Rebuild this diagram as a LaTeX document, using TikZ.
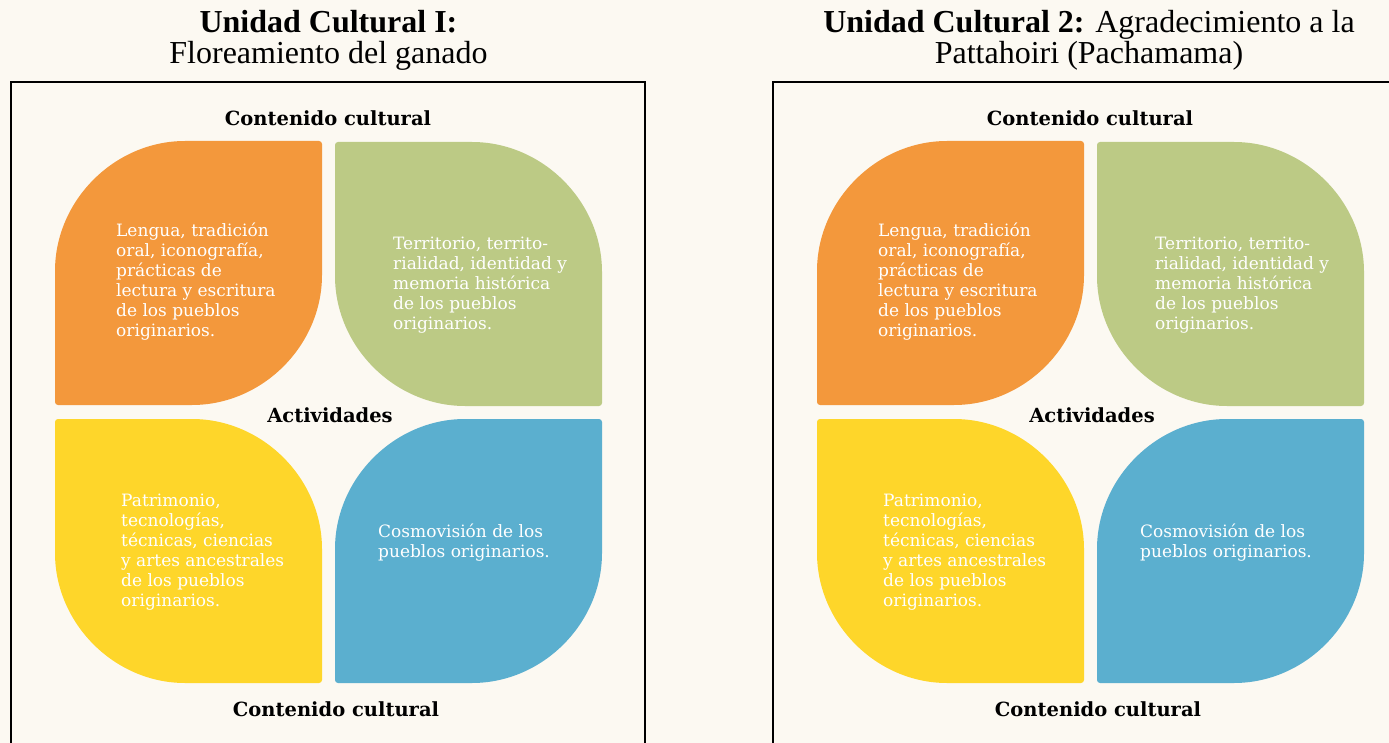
\documentclass[tikz,border=0pt]{standalone}
\usepackage{fontspec}
\setmainfont{DejaVu Serif}
\newfontfamily\titlefont{Liberation Serif}
\definecolor{bgcream}{HTML}{FCF9F2}
\definecolor{porange}{HTML}{F3983C}
\definecolor{pgreen}{HTML}{BCCA85}
\definecolor{pyellow}{HTML}{FED62A}
\definecolor{pblue}{HTML}{5BAFCF}
\newcommand\petalA[4]{\fill[#3,rounded corners=3pt,shift={(#1,#2)}] (267,0) -- (267,131) .. controls (267,204.5) and (207.5,264) .. (134,264) -- (0,264) -- (0,133) .. controls (0,59.5) and (59.5,0) .. (133,0) -- cycle;}
\newcommand\petalB[4]{\fill[#3,rounded corners=3pt,shift={(#1,#2)}] (267,264) -- (133,264) .. controls (59.5,264) and (0,204.5) .. (0,131) -- (0,0) -- (134,0) .. controls (207.5,0) and (267,59.5) .. (267,133) -- cycle;}
\begin{document}
\begin{tikzpicture}[x=1pt,y=-1pt,
  petaltext/.style={text=white, align=left, anchor=west, inner sep=0pt, font=\fontsize{17}{20}\selectfont},
  seclabel/.style={inner sep=0pt, font=\bfseries\fontsize{19.5}{22}\selectfont},
  titletext/.style={inner sep=0pt, align=center, font=\titlefont\fontsize{32}{31}\selectfont},
  frameline/.style={line width=2.5pt, black}]
\useasboundingbox (0,0) rectangle (1389,743);
\fill[bgcream] (0,0) rectangle (1389,743);

% ---------- Panel 1 ----------
\node[titletext] (t1) at (328.5,40.5) {\textbf{Unidad Cultural I:}\\Floreamiento del ganado};
\draw[frameline] (11,750) -- (11,82) -- (645,82) -- (645,750);
\petalA{55}{141}{porange}{o1}
\petalB{335}{142}{pgreen}{g1}
\petalB{55}{419}{pyellow}{y1}
\petalA{335}{419}{pblue}{b1}
\node[seclabel] (c1top) at (328,118) {Contenido cultural};
\node[seclabel] (a1) at (330,415) {Actividades};
\node[seclabel] (c1bot) at (336,709.5) {Contenido cultural};
\node[petaltext] (o1t) at (116,282) {Lengua, tradición\\oral, iconografía,\\prácticas de\\lectura y escritura\\de los pueblos\\originarios.};
\node[petaltext] (g1t) at (393,285) {Territorio, territo-\\rialidad, identidad y\\memoria histórica\\de los pueblos\\originarios.};
\node[petaltext] (y1t) at (121,552) {Patrimonio,\\tecnologías,\\técnicas, ciencias\\y artes ancestrales\\de los pueblos\\originarios.};
\node[petaltext] (b1t) at (378,543) {Cosmovisión de los\\pueblos originarios.};

% ---------- Panel 2 ----------
\node[titletext] (t2) at (1089,40.5) {\textbf{Unidad Cultural 2:} Agradecimiento a la\\Pattahoiri (Pachamama)};
\draw[frameline] (773,750) -- (773,82) -- (1400,82);
\petalA{817}{141}{porange}{o2}
\petalB{1097}{142}{pgreen}{g2}
\petalB{817}{419}{pyellow}{y2}
\petalA{1097}{419}{pblue}{b2}
\node[seclabel] (c2top) at (1090,118) {Contenido cultural};
\node[seclabel] (a2) at (1092,415) {Actividades};
\node[seclabel] (c2bot) at (1098,709.5) {Contenido cultural};
\node[petaltext] (o2t) at (878,282) {Lengua, tradición\\oral, iconografía,\\prácticas de\\lectura y escritura\\de los pueblos\\originarios.};
\node[petaltext] (g2t) at (1155,285) {Territorio, territo-\\rialidad, identidad y\\memoria histórica\\de los pueblos\\originarios.};
\node[petaltext] (y2t) at (883,552) {Patrimonio,\\tecnologías,\\técnicas, ciencias\\y artes ancestrales\\de los pueblos\\originarios.};
\node[petaltext] (b2t) at (1140,543) {Cosmovisión de los\\pueblos originarios.};
\end{tikzpicture}
\end{document}
